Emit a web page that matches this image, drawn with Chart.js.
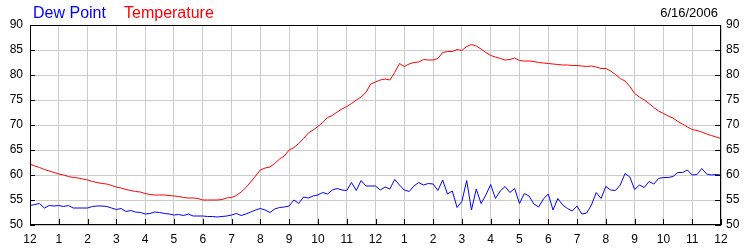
<!DOCTYPE html>
<html>
<head>
<meta charset="utf-8">
<script src="https://cdn.jsdelivr.net/npm/chart.js@4.4.1/dist/chart.umd.min.js"></script>
<style>
    html, body { margin: 0; padding: 0; background: #fff; }
    #wrap { position: relative; width: 750px; height: 250px; font-family: Arial, "Liberation Sans", sans-serif; }
    .lab { position: absolute; line-height: 16px; white-space: nowrap; }
</style>
</head>
<body>
<div id="wrap">
    <canvas id="weatherChart" width="750" height="250"></canvas>
    <div class="lab" style="left:33px; top:5px; font-size:16px; color:#0000ff;">Dew Point</div>
    <div class="lab" style="left:124px; top:5px; font-size:16px; color:#ff0000;">Temperature</div>
    <div class="lab" style="right:32px; top:5px; font-size:13px; color:#000;">6/16/2006</div>
</div>
<script>
// readings every 10 minutes, midnight to midnight
const stepHours = 1 / 6;

const hourLabels = ['12', '1', '2', '3', '4', '5', '6', '7', '8', '9', '10', '11',
                    '12', '1', '2', '3', '4', '5', '6', '7', '8', '9', '10', '11', '12'];

const yTicks = [50, 55, 60, 65, 70, 75, 80, 85, 90];

const temperature = [
    62.2, 61.8, 61.5, 61.1, 60.8, 60.5,
    60.2, 60.0, 59.7, 59.5, 59.4, 59.2,
    59.0, 58.7, 58.5, 58.3, 58.2, 57.9,
    57.6, 57.4, 57.1, 56.9, 56.7, 56.6,
    56.3, 56.1, 56.0, 56.0, 56.0, 55.9,
    55.8, 55.7, 55.5, 55.4, 55.4, 55.3,
    55.0, 55.0, 55.0, 55.0, 55.1, 55.4,
    55.5, 55.9, 56.6, 57.5, 58.6, 59.8,
    61.0, 61.4, 61.6, 62.3, 63.2, 63.8,
    65.0, 65.5, 66.3, 67.3, 68.4, 69.0,
    69.7, 70.5, 71.5, 71.9, 72.6, 73.2,
    73.7, 74.3, 75.0, 75.6, 76.5, 78.2,
    78.6, 79.0, 79.2, 79.0, 80.5, 82.3,
    81.7, 82.2, 82.5, 82.6, 83.1, 83.0,
    83.0, 83.3, 84.5, 84.7, 84.7, 85.1,
    84.9, 85.7, 86.1, 85.8, 85.2, 84.5,
    83.9, 83.6, 83.3, 83.0, 83.1, 83.4,
    82.9, 82.8, 82.8, 82.7, 82.5, 82.4,
    82.3, 82.2, 82.1, 82.0, 82.0, 81.9,
    81.9, 81.8, 81.7, 81.8, 81.6, 81.3,
    81.3, 80.8, 80.1, 79.3, 78.8, 77.7,
    76.3, 75.6, 75.0, 74.3, 73.5, 72.8,
    72.3, 71.8, 71.4, 70.7, 70.2, 69.6,
    69.1, 68.9, 68.6, 68.2, 67.9, 67.6,
    67.3
];

const dewPoint = [
    53.9, 54.1, 54.3, 53.4, 53.9, 53.8,
    53.9, 53.7, 53.9, 53.4, 53.4, 53.4,
    53.4, 53.7, 53.8, 53.8, 53.7, 53.4,
    53.1, 53.3, 52.7, 52.9, 52.6, 52.5,
    52.2, 52.3, 52.6, 52.5, 52.3, 52.2,
    52.0, 52.1, 51.9, 52.2, 51.8, 51.8,
    51.8, 51.7, 51.7, 51.6, 51.7, 51.8,
    52.0, 52.3, 51.9, 52.2, 52.6, 53.0,
    53.3, 53.0, 52.5, 53.2, 53.5, 53.6,
    53.8, 55.0, 54.3, 55.6, 55.4, 55.8,
    56.0, 56.5, 56.2, 57.0, 57.3, 57.0,
    56.9, 58.5, 56.9, 58.9, 57.8, 57.8,
    57.8, 57.0, 57.6, 57.2, 59.1, 58.0,
    57.0, 56.7, 57.8, 58.5, 58.0, 58.3,
    58.2, 56.9, 59.0, 56.2, 56.8, 53.5,
    54.7, 58.9, 53.0, 57.2, 54.3, 56.0,
    58.1, 55.3, 56.8, 57.7, 56.5, 57.3,
    54.3, 56.3, 55.8, 54.2, 53.6, 55.2,
    56.2, 53.0, 55.3, 54.0, 53.3, 52.8,
    53.8, 52.2, 52.4, 54.0, 56.5, 55.3,
    57.7, 57.0, 56.9, 58.0, 60.3, 59.6,
    57.1, 58.0, 57.5, 58.7, 58.2, 59.3,
    59.5, 59.5, 59.7, 60.5, 60.5, 61.0,
    60.0, 60.1, 61.3, 60.2, 60.0, 60.1,
    60.0
];

const toPoints = values => values.map((v, i) => ({ x: i * stepHours, y: v }));

const tickFont = { family: 'Arial, "Liberation Sans", sans-serif', size: 12 };

// black frame plus short inward tick marks, like the original plot
const framePlugin = {
    id: 'frame',
    afterDraw(chart) {
        const { ctx, chartArea: a, scales } = chart;
        ctx.save();
        ctx.strokeStyle = '#000';
        ctx.lineWidth = 1;
        ctx.strokeRect(Math.round(a.left) + 0.5, Math.round(a.top) + 0.5,
                       Math.round(a.right - a.left) - 1, Math.round(a.bottom - a.top) - 1);
        ctx.beginPath();
        hourLabels.forEach((_, h) => {
            const x = Math.round(scales.x.getPixelForValue(h)) + 0.5;
            ctx.moveTo(x, a.bottom);
            ctx.lineTo(x, a.bottom - 6);
        });
        yTicks.forEach(v => {
            const y = Math.round(scales.y.getPixelForValue(v)) + 0.5;
            ctx.moveTo(a.left, y);
            ctx.lineTo(a.left + 5, y);
            ctx.moveTo(a.right, y);
            ctx.lineTo(a.right - 6, y);
        });
        ctx.stroke();
        ctx.restore();
    }
};

const ctx = document.getElementById('weatherChart').getContext('2d');

new Chart(ctx, {
    type: 'line',
    data: {
        datasets: [
            {
                label: 'Temperature',
                data: toPoints(temperature),
                borderColor: '#ff0000',
                borderWidth: 1,
                pointRadius: 0,
                tension: 0,
                yAxisID: 'y'
            },
            {
                label: 'Dew Point',
                data: toPoints(dewPoint),
                borderColor: '#0000ff',
                borderWidth: 1,
                pointRadius: 0,
                tension: 0,
                yAxisID: 'y'
            }
        ]
    },
    options: {
        responsive: false,
        animation: false,
        layout: { padding: { top: 25, left: 0, right: 0, bottom: 0 } },
        plugins: {
            legend: { display: false },
            tooltip: { enabled: false }
        },
        scales: {
            x: {
                type: 'linear',
                min: 0,
                max: 24,
                afterFit: scale => { scale.height = 25; },
                grid: { color: '#cccccc', drawTicks: false },
                border: { display: false },
                ticks: {
                    stepSize: 1,
                    autoSkip: false,
                    maxRotation: 0,
                    padding: 7,
                    color: '#000',
                    font: tickFont,
                    callback: v => hourLabels[v]
                }
            },
            y: {
                position: 'left',
                min: 50,
                max: 90,
                afterFit: scale => { scale.width = 30; },
                grid: { color: '#cccccc', drawTicks: false },
                border: { display: false },
                ticks: { stepSize: 5, padding: 7, color: '#000', font: tickFont }
            },
            y2: {
                position: 'right',
                min: 50,
                max: 90,
                afterFit: scale => { scale.width = 29; },
                grid: { drawOnChartArea: false, drawTicks: false },
                border: { display: false },
                ticks: { stepSize: 5, padding: 5, color: '#000', font: tickFont }
            }
        }
    },
    plugins: [framePlugin]
});
</script>
</body>
</html>
